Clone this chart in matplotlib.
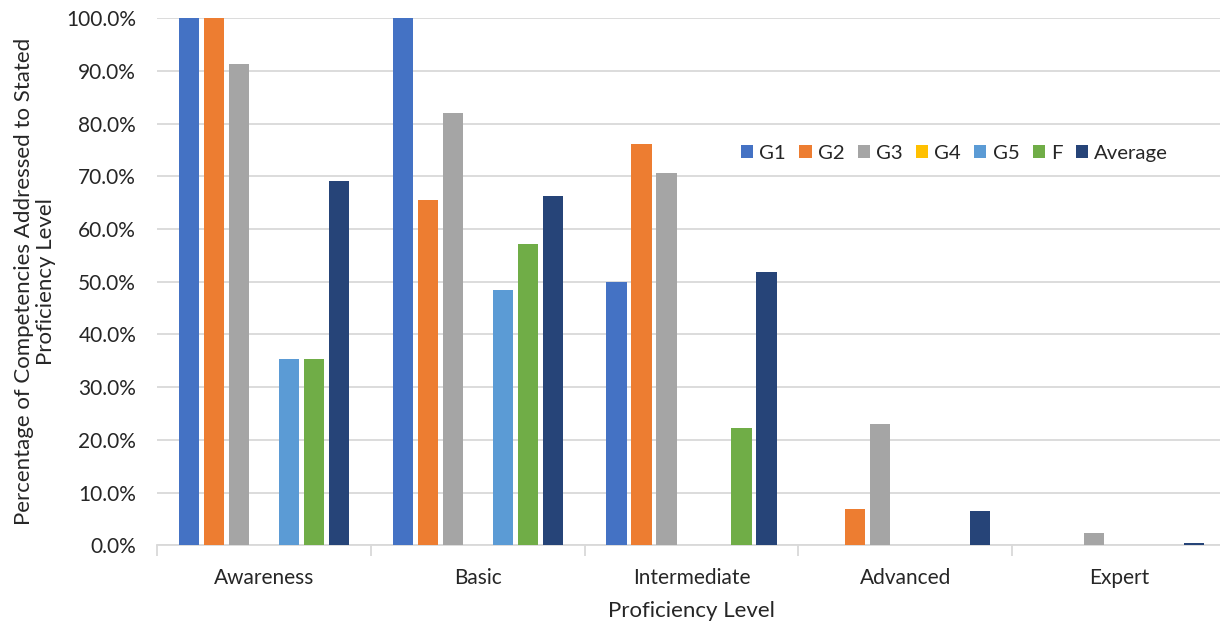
import matplotlib.pyplot as plt
import numpy as np
from matplotlib.ticker import FuncFormatter, FixedLocator

plt.rcParams["font.family"] = ["Lato", "DejaVu Sans"]

levels = ["Awareness", "Basic", "Intermediate", "Advanced", "Expert"]
series = ["G1", "G2", "G3", "G4", "G5", "F", "Average"]

# percentage of competencies per proficiency level
g1 = [100.0, 100.0, 50.0, 0.0, 0.0]
g2 = [100.0, 65.5, 76.1, 6.8, 0.0]
g3 = [91.3, 82.0, 70.6, 23.0, 2.4]
g4 = [0.0, 0.0, 0.0, 0.0, 0.0]
g5 = [35.3, 48.4, 0.0, 0.0, 0.0]
f_vals = [35.3, 57.1, 22.2, 0.0, 0.0]
average = [69.1, 66.3, 51.8, 6.6, 0.4]

colors = ["#4472C4", "#ED7D31", "#A5A5A5", "#FFC000", "#5B9BD5", "#70AD47", "#264478"]
values = [g1, g2, g3, g4, g5, f_vals, average]

fig = plt.figure(figsize=(12.2, 6.23), dpi=100)
ax = fig.add_axes([157 / 1220, (623 - 545.3) / 623, 1069 / 1220, 527 / 623])

x = np.arange(len(levels))
step = 0.117
width = 0.094
for i, (name, vals, col) in enumerate(zip(series, values, colors)):
    offset = (i - 3) * step
    ax.bar(x + offset, vals, width=width, color=col, label=name, zorder=3)

ax.set_xlim(-0.5, len(levels) - 0.5)
ax.set_ylim(0, 100)
ax.set_yticks(np.arange(0, 101, 10))
ax.yaxis.set_major_formatter(FuncFormatter(lambda v, _: f"{v:.1f}%"))
ax.grid(axis="y", color="#d9d9d9", linewidth=1.3, zorder=0)

ax.set_xticks(x)
ax.set_xticklabels(levels)
ax.xaxis.set_minor_locator(FixedLocator(np.arange(-0.5, len(levels), 1.0)))
ax.tick_params(axis="x", which="major", length=0, pad=16, labelsize=15, colors="#262626")
ax.tick_params(axis="x", which="minor", length=8, width=1.3, color="#d9d9d9")
ax.tick_params(axis="y", length=0, pad=15, labelsize=15, colors="#262626")

for side in ["top", "right", "left"]:
    ax.spines[side].set_visible(False)
ax.spines["bottom"].set_color("#d9d9d9")
ax.spines["bottom"].set_linewidth(1.3)

ax.set_xlabel("Proficiency Level", fontsize=16, color="#262626", labelpad=10)
ax.set_ylabel("Percentage of Competencies Addressed to Stated\nProficiency Level",
              fontsize=16, color="#262626", labelpad=7, linespacing=1.15)

ax.legend(loc="center", bbox_to_anchor=(0.746, 0.744), ncol=7, frameon=False,
          fontsize=14.7, handlelength=0.6, handleheight=0.6, handletextpad=0.3,
          columnspacing=0.65, labelcolor="#262626")

fig.savefig("out.png", dpi=100)
